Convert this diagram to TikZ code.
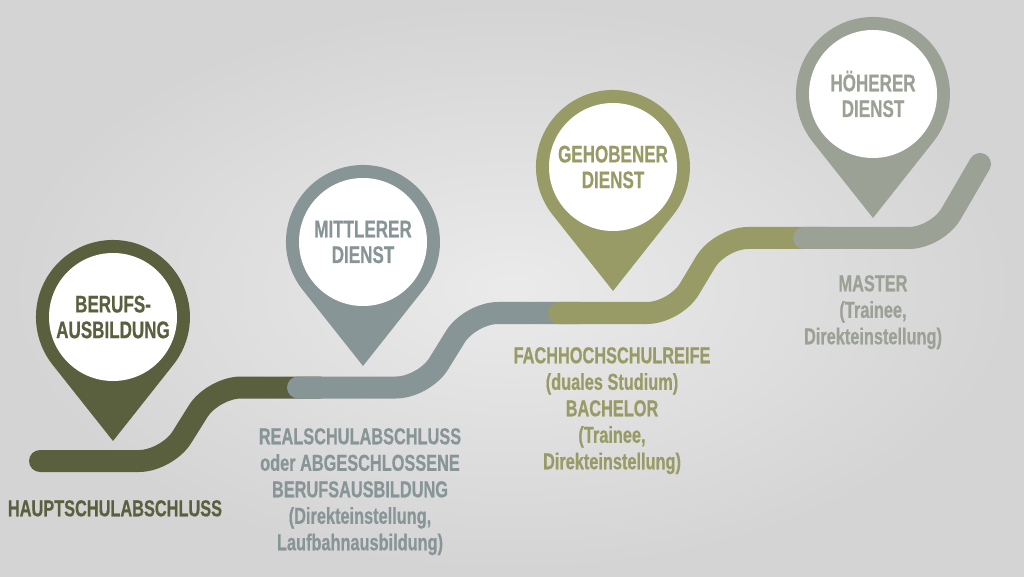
\documentclass[tikz,border=0pt]{standalone}
\usepackage{fontspec}
\usepackage{tikz}
\newfontfamily\cond{Liberation Sans}[FakeStretch=0.71,BoldFeatures={FakeBold=0.6}]
\definecolor{darkolive}{RGB}{90,95,62}
\definecolor{steelgray}{RGB}{136,149,151}
\definecolor{lightolive}{RGB}{152,155,102}
\definecolor{sagegray}{RGB}{156,161,150}
\tikzset{
  track/.style={line width=22pt,line cap=round,line join=round,rounded corners=28pt},
  headtext/.style={circle,fill=white,minimum size=128pt,inner sep=0pt,align=center,
    font=\cond\bfseries\fontsize{24}{25.7}\selectfont},
  steptext/.style={inner sep=0pt,anchor=north,align=center,
    font=\cond\bfseries\fontsize{23}{26.5}\selectfont},
}

\begin{document}
\begin{tikzpicture}[x=1pt,y=1pt]
          \shade [inner color=black!8,outer color=black!17] (0,0) rectangle (1024,576);
          \useasboundingbox (0,0) rectangle (1024,576);
          % the stairs
          \draw [track,darkolive] (40,115) -- (167,115) -- (213,188.5) -- (320,188.5);
          \draw [track,steelgray] (298,188.5) -- (424,188.5) -- (470,263) -- (580,263);
          \draw [track,lightolive] (559,263) -- (675,263) -- (720,338) -- (830,338);
          \draw [track,sagegray] (804,338) -- (937,338) -- (980,412);
          % pins
          \fill [darkolive] (113,135) -- (173.3,211.2) arc[start angle=-38.4,end angle=218.4,radius=77] -- cycle;
          \fill [steelgray] (363,210) -- (423.3,286.2) arc[start angle=-38.4,end angle=218.4,radius=77] -- cycle;
          \fill [lightolive] (613,285) -- (673.3,361.2) arc[start angle=-38.4,end angle=218.4,radius=77] -- cycle;
          \fill [sagegray] (873,358) -- (933.3,434.2) arc[start angle=-38.4,end angle=218.4,radius=77] -- cycle;
          \node [headtext,text=darkolive] (beruf) at (113,259) {BERUFS-\\AUSBILDUNG};
          \node [headtext,text=steelgray] (mittel) at (363,334) {MITTLERER\\DIENST};
          \node [headtext,text=lightolive] (gehoben) at (613,409) {GEHOBENER\\DIENST};
          \node [headtext,text=sagegray] (hoeher) at (873,482) {HÖHERER\\DIENST};
          % what leads there
          \node [steptext,text=darkolive] (haupt) at (115,76) {HAUPTSCHULABSCHLUSS};
          \node [steptext,text=steelgray] (real) at (360,148) {REALSCHULABSCHLUSS\\oder ABGESCHLOSSENE\\BERUFSAUSBILDUNG\\(Direkteinstellung,\\Laufbahnausbildung)};
          \node [steptext,text=lightolive] (fach) at (612,229) {FACHHOCHSCHULREIFE\\(duales Studium)\\BACHELOR\\(Trainee,\\Direkteinstellung)};
          \node [steptext,text=sagegray] (master) at (873,301) {MASTER\\(Trainee,\\Direkteinstellung)};
        \end{tikzpicture}
\end{document}
